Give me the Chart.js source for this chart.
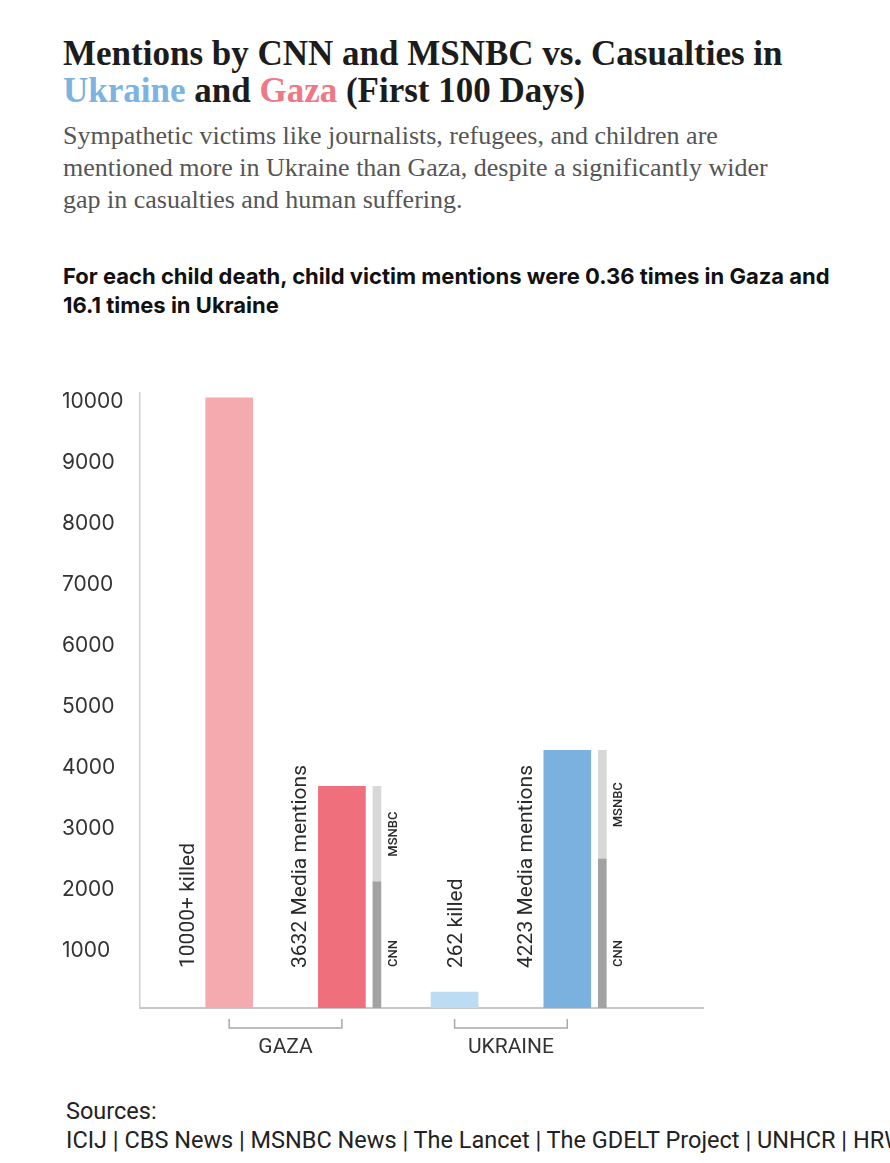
<!DOCTYPE html>
<html>
<head>
<meta charset="utf-8">
<script src="https://cdn.jsdelivr.net/npm/chart.js@4.4.1/dist/chart.umd.min.js"></script>
<style>
  html, body { margin: 0; padding: 0; background: #fff; }
  body { width: 890px; height: 1163px; position: relative; overflow: hidden; }
  .title { position: absolute; left: 63px; top: 35px; font: bold 35px "Liberation Serif", serif; line-height: 37px; color: #1c1c1c; white-space: nowrap; }
  .title .ukr { color: #7db3e1; }
  .title .gaza { color: #ef7884; }
  .subtitle { position: absolute; left: 63px; top: 120px; font: 26px "Liberation Serif", serif; line-height: 32px; color: #555; white-space: nowrap; }
  .subhead { position: absolute; left: 63px; top: 262px; font: bold 22px Inter, sans-serif; line-height: 29px; color: #111; white-space: nowrap; }
  #wrap { position: absolute; left: 0; top: 360px; width: 890px; height: 720px; }
  .sources { position: absolute; left: 66px; top: 1097px; font: 23.5px Roboto, sans-serif; line-height: 29px; color: #222; white-space: nowrap; }
</style>
</head>
<body>
<div class="title">Mentions by CNN and MSNBC vs. Casualties in<br><span class="ukr">Ukraine</span> and <span class="gaza">Gaza</span> (First 100 Days)</div>
<div class="subtitle">Sympathetic victims like journalists, refugees, and children are<br>mentioned more in Ukraine than Gaza, despite a significantly wider<br>gap in casualties and human suffering.</div>
<div class="subhead">For each child death, child victim mentions were 0.36 times in Gaza and<br>16.1 times in Ukraine</div>
<div id="wrap"><canvas id="chart" width="890" height="720"></canvas></div>
<div class="sources">Sources:<br>ICIJ | CBS News | MSNBC News | The Lancet | The GDELT Project | UNHCR | HRW</div>
<script>
// slots on the x axis (the outer two are empty edges)
const slots = ['', 'Gaza killed', 'Gaza mentions', 'Ukraine killed', 'Ukraine mentions', ''];
const totals = [null, 10000, 3632, 262, 4223, null];
const cnnMentions = [null, null, 2070, null, 2440, null];
const msnbcMentions = [null, null, 1562, null, 1783, null];
const barLabels = ['', '10000+ killed', '3632 Media mentions', '262 killed', '4223 Media mentions', ''];
const barColors = [null, '#f5aab0', '#f06f7c', '#bcdcf3', '#7ab1de', null];
const yTicks = [1000, 2000, 3000, 4000, 5000, 6000, 7000, 8000, 9000, 10000];
const groups = [
    { name: 'GAZA', from: 1, to: 2 },
    { name: 'UKRAINE', from: 3, to: 4 }
];

const textColor = '#2a2a2a';

// Rotated labels next to bars, outlet labels, group brackets
const annotations = {
    id: 'annotations',
    afterDatasetsDraw(chart) {
        const ctx = chart.ctx;
        const bottom = chart.chartArea.bottom;
        const main = chart.getDatasetMeta(0);
        const cnn = chart.getDatasetMeta(1);
        const msnbc = chart.getDatasetMeta(2);

        ctx.save();
        ctx.fillStyle = textColor;
        ctx.textAlign = 'left';
        ctx.textBaseline = 'alphabetic';
        ctx.font = '21px Roboto';
        main.data.forEach((bar, i) => {
            if (!barLabels[i]) return;
            // short bars get their label above them, the rest to the left
            const short = bar.base - bar.y < 60;
            const x = short ? bar.x + 7 : bar.x - bar.width / 2 - 12;
            ctx.save();
            ctx.translate(x, bottom - 40);
            ctx.rotate(-Math.PI / 2);
            ctx.fillText(barLabels[i], 0, 0);
            ctx.restore();
        });

        ctx.font = '500 13px Roboto';
        cnn.data.forEach((bar, i) => {
            if (cnnMentions[i] == null) return;
            ctx.save();
            ctx.translate(bar.x + bar.width / 2 + 16, bottom - 41);
            ctx.rotate(-Math.PI / 2);
            ctx.textAlign = 'left';
            ctx.fillText('CNN', 0, 0);
            ctx.restore();
        });
        msnbc.data.forEach((bar, i) => {
            if (msnbcMentions[i] == null) return;
            ctx.save();
            ctx.translate(bar.x + bar.width / 2 + 16, (bar.y + bar.base) / 2);
            ctx.rotate(-Math.PI / 2);
            ctx.textAlign = 'center';
            ctx.fillText('MSNBC', 0, 0);
            ctx.restore();
        });

        // brackets under each group
        ctx.strokeStyle = '#a8a8a8';
        ctx.lineWidth = 1.5;
        ctx.font = '21px Roboto';
        ctx.textAlign = 'center';
        ctx.textBaseline = 'middle';
        ctx.fillStyle = '#333';
        groups.forEach(g => {
            const x1 = main.data[g.from].x;
            const x2 = main.data[g.to].x;
            ctx.beginPath();
            ctx.moveTo(x1, bottom + 11);
            ctx.lineTo(x1, bottom + 20);
            ctx.lineTo(x2, bottom + 20);
            ctx.lineTo(x2, bottom + 11);
            ctx.stroke();
            ctx.fillText(g.name, (x1 + x2) / 2, bottom + 40);
        });
        ctx.restore();
    }
};

new Chart(document.getElementById('chart').getContext('2d'), {
    type: 'bar',
    data: {
        labels: slots,
        datasets: [
            {
                label: 'Total',
                data: totals,
                backgroundColor: barColors,
                stack: 'main',
                barThickness: 47
            },
            {
                label: 'CNN',
                data: cnnMentions,
                backgroundColor: '#a2a2a2',
                stack: 'outlets',
                barThickness: 23,
                maxBarThickness: 8
            },
            {
                label: 'MSNBC',
                data: msnbcMentions,
                backgroundColor: '#d8d8d8',
                stack: 'outlets',
                barThickness: 23,
                maxBarThickness: 8
            }
        ]
    },
    options: {
        responsive: false,
        animation: false,
        devicePixelRatio: 1,
        layout: {
            padding: { left: 62, right: 186.5, top: 33, bottom: 72 }
        },
        plugins: {
            legend: { display: false },
            tooltip: { enabled: false }
        },
        scales: {
            x: {
                type: 'category',
                offset: false,
                grid: { display: false, drawTicks: false },
                border: { display: true, color: '#c6c6c6', width: 2 },
                ticks: { display: false },
                afterFit: s => { s.height = 0; }
            },
            y: {
                stacked: true,
                min: 0,
                max: 10080,
                grid: { display: false, drawTicks: false },
                border: { display: true, color: '#d0d0d0', width: 1.5 },
                ticks: {
                    crossAlign: 'far',
                    padding: 0,
                    labelOffset: 4,
                    color: '#333',
                    font: { family: 'Inter', size: 21 },
                    callback: v => String(v)
                },
                afterBuildTicks: s => { s.ticks = yTicks.map(v => ({ value: v })); },
                afterFit: s => { s.width = 78; }
            }
        }
    },
    plugins: [annotations]
});
</script>
</body>
</html>
